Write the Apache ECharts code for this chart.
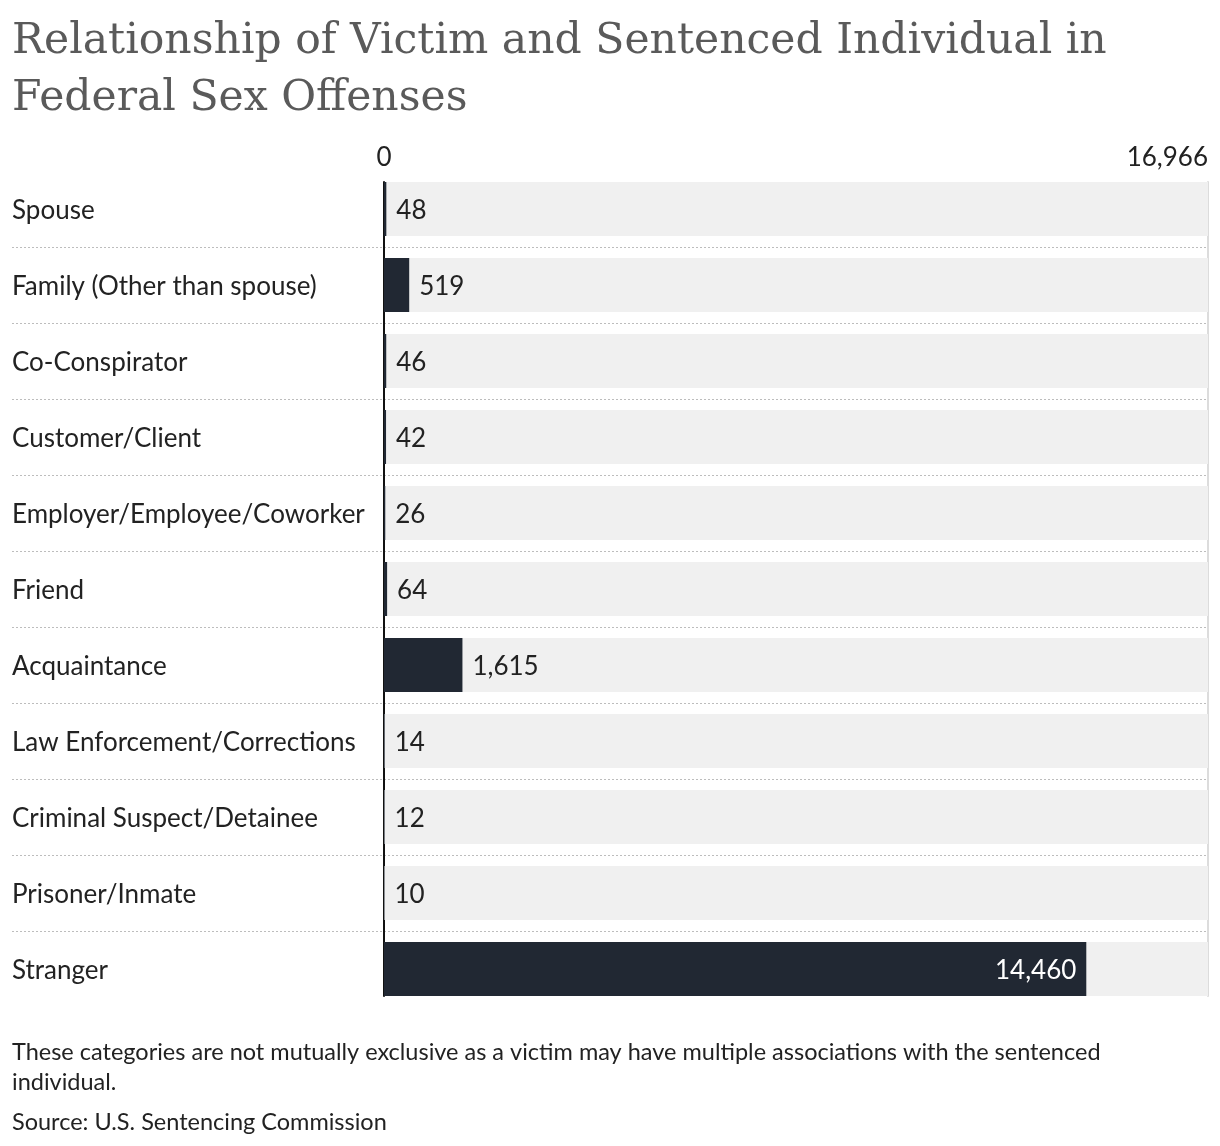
<!DOCTYPE html>
<html>
<head>
<meta charset="utf-8">
<script src="https://cdn.jsdelivr.net/npm/echarts@6/dist/echarts.min.js"></script>
<style>
  html, body { margin: 0; padding: 0; background: #fff; }
  #chart { width: 1220px; height: 1146px; }
</style>
</head>
<body>
<div id="chart"></div>
<script>
// data
const categories = [
  'Spouse', 'Family (Other than spouse)', 'Co-Conspirator', 'Customer/Client',
  'Employer/Employee/Coworker', 'Friend', 'Acquaintance', 'Law Enforcement/Corrections',
  'Criminal Suspect/Detainee', 'Prisoner/Inmate', 'Stranger'
];
const values = [48, 519, 46, 42, 26, 64, 1615, 14, 12, 10, 14460];
const axisMax = 16966;

const fmt = v => Number(v).toLocaleString('en-US');
const textColor = '#222';
const barColor = '#212833';

let chart = echarts.init(document.getElementById('chart'));
chart.setOption({
  backgroundColor: '#fff',
  animation: false,
  title: [
    {
      text: 'Relationship of Victim and Sentenced Individual in\nFederal Sex Offenses',
      left: 12, top: 13, padding: 0,
      textStyle: { fontFamily: 'DejaVu Serif', fontSize: 42.5, fontWeight: 'normal', color: '#5a5a5a', lineHeight: 57 }
    },
    {
      text: 'These categories are not mutually exclusive as a victim may have multiple associations with the sentenced\nindividual.',
      left: 12, top: 1037, padding: 0,
      textStyle: { fontFamily: 'Lato', fontSize: 23.5, fontWeight: 'normal', color: textColor, lineHeight: 30 }
    },
    {
      text: 'Source: U.S. Sentencing Commission',
      left: 12, top: 1110, padding: 0,
      textStyle: { fontFamily: 'Lato', fontSize: 23.5, fontWeight: 'normal', color: textColor }
    }
  ],
  grid: [
    { left: 384, right: 12, top: 171, height: 836 },   // bars
    { left: 384, right: 12, top: 182, height: 814 },   // axis lines
    { left: 12, right: 12, top: 171, height: 836 }     // dotted separators
  ],
  xAxis: [
    {
      gridIndex: 0, type: 'value', position: 'top', min: 0, max: axisMax, interval: axisMax,
      axisLine: { show: false }, axisTick: { show: false }, splitLine: { show: false },
      axisLabel: {
        formatter: fmt, fontFamily: 'Lato', fontSize: 26, color: textColor, margin: 0,
        alignMaxLabel: 'right'
      }
    },
    { gridIndex: 1, type: 'value', min: 0, max: axisMax, show: false },
    { gridIndex: 2, type: 'value', min: 0, max: 1, show: false }
  ],
  yAxis: [
    {
      gridIndex: 0, type: 'category', data: categories, inverse: true,
      axisLine: { show: false }, axisTick: { show: false }, splitLine: { show: false },
      axisLabel: {
        align: 'left', margin: 372, verticalAlign: 'top', lineHeight: 4,
        fontFamily: 'Lato', fontSize: 26, color: textColor
      }
    },
    {
      gridIndex: 1, type: 'value', min: 0, max: 1, position: 'left',
      axisLine: { show: true, lineStyle: { color: '#111', width: 2 } },
      axisTick: { show: false }, axisLabel: { show: false }, splitLine: { show: false }
    },
    {
      gridIndex: 1, type: 'value', min: 0, max: 1, position: 'right',
      axisLine: { show: true, onZero: false, lineStyle: { color: '#dcdcdc', width: 2 } },
      axisTick: { show: false }, axisLabel: { show: false }, splitLine: { show: false }
    },
    {
      gridIndex: 2, type: 'category', data: categories, inverse: true,
      axisLine: { show: false }, axisTick: { show: false }, axisLabel: { show: false },
      splitLine: { show: true, showMinLine: false, showMaxLine: false, lineStyle: { color: '#bdbdbd', type: [2, 2], width: 1 } }
    }
  ],
  series: [{
    type: 'bar',
    xAxisIndex: 0, yAxisIndex: 0,
    barWidth: 54,
    showBackground: true,
    backgroundStyle: { color: '#f0f0f0' },
    itemStyle: { color: barColor },
    data: values.map(v => ({
      value: v,
      label: v > axisMax * 0.5
        ? { position: 'insideRight', color: '#fff', distance: 10 }
        : { position: 'right', color: textColor, distance: 10 }
    })),
    label: { show: true, formatter: p => fmt(p.value), fontFamily: 'Lato', fontSize: 26, offset: [0, 2] }
  }]
});
</script>
</body>
</html>
